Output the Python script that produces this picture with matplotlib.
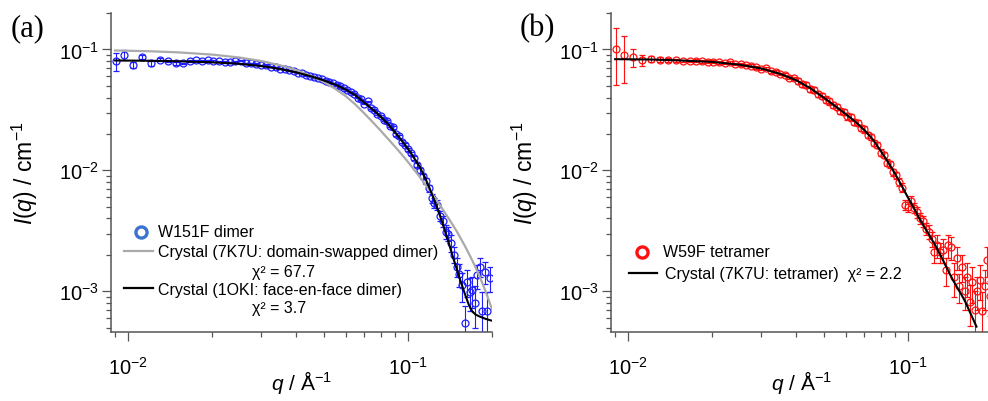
import matplotlib
matplotlib.use('Agg')
import matplotlib.pyplot as plt
from matplotlib.ticker import NullFormatter
import numpy

plt.rcParams['font.family'] = ['Liberation Sans', 'DejaVu Sans']
plt.rcParams['mathtext.fontset'] = 'custom'
plt.rcParams['mathtext.rm'] = 'Liberation Sans'
plt.rcParams['mathtext.it'] = 'Liberation Sans:italic'
plt.rcParams['mathtext.bf'] = 'Liberation Sans:bold'

# measured q grid (shared by both samples), 1/A
q_exp = [0.0091, 0.0097, 0.0104, 0.0112, 0.0121, 0.0130, 0.0139, 0.0148, 0.0157, 0.0166,
         0.0175, 0.0184, 0.0193, 0.0202, 0.0212, 0.0222, 0.0232, 0.0242, 0.0253, 0.0264,
         0.0275, 0.0287, 0.0299, 0.0311, 0.0324, 0.0337, 0.0350, 0.0363, 0.0377, 0.0391,
         0.0405, 0.0419, 0.0433, 0.0448, 0.0463, 0.0478, 0.0493, 0.0509, 0.0525, 0.0541,
         0.0557, 0.0574, 0.0591, 0.0608, 0.0626, 0.0644, 0.0662, 0.0681, 0.0700, 0.0719,
         0.0739, 0.0759, 0.0779, 0.0800, 0.0821, 0.0843, 0.0865, 0.0887, 0.0910, 0.0933,
         0.0957, 0.0981, 0.1005, 0.1030, 0.1055, 0.1081, 0.1107, 0.1134, 0.1161, 0.1189,
         0.1217, 0.1246, 0.1275, 0.1305, 0.1335, 0.1366, 0.1397, 0.1429, 0.1461, 0.1494,
         0.1527, 0.1561, 0.1595, 0.1630, 0.1665, 0.1701, 0.1737, 0.1774, 0.1811, 0.1849,
         0.1887, 0.1926, 0.1965]

# (a) W151F dimer
I_w151f = [0.0800, 0.0905, 0.0740, 0.0870, 0.0765, 0.0825, 0.0800, 0.0765, 0.0765, 0.0800,
           0.0812, 0.0805, 0.0810, 0.0800, 0.0795, 0.0788, 0.0783, 0.0800, 0.0803, 0.0770,
           0.0765, 0.0760, 0.0742, 0.0745, 0.0722, 0.0715, 0.0690, 0.0688, 0.0672, 0.0660,
           0.0642, 0.0640, 0.0612, 0.0605, 0.0590, 0.0580, 0.0566, 0.0553, 0.0540, 0.0527,
           0.0510, 0.0494, 0.0478, 0.0462, 0.0442, 0.0430, 0.0400, 0.0386, 0.0356, 0.0372,
           0.0326, 0.0318, 0.0294, 0.0283, 0.0263, 0.0254, 0.0231, 0.0226, 0.0199, 0.0191,
           0.0173, 0.0163, 0.0149, 0.0138, 0.0127, 0.0111, 0.0100, 0.0089, 0.0082, 0.0071,
           0.0059, 0.0054, 0.0052, 0.0042, 0.0038, 0.0031, 0.0030, 0.0025, 0.0020, 0.0016,
           0.00138, 0.00112, 0.00055, 0.00120, 0.00098, 0.00102, 0.00080, 0.00135, 0.00160, 0.00068,
           0.00145, 0.00068, 0.00128]
err_w151f = [0.0140, 0.0080, 0.0040, 0.0035, 0.0030, 0.0022, 0.0018, 0.0016, 0.0014, 0.0013,
             0.0012, 0.0011, 0.0010, 0.0010, 0.0009, 0.0009, 0.0008, 0.0008, 0.0008, 0.0007,
             0.0007, 0.0007, 0.0007, 0.0006, 0.0006, 0.0006, 0.0006, 0.0006, 0.0006, 0.0005,
             0.0005, 0.0005, 0.0005, 0.0005, 0.0005, 0.0005, 0.0005, 0.0005, 0.0005, 0.0005,
             0.0005, 0.0005, 0.0005, 0.0005, 0.0005, 0.0005, 0.0005, 0.0005, 0.0005, 0.0005,
             0.0005, 0.0005, 0.0005, 0.0005, 0.0005, 0.0005, 0.0005, 0.0005, 0.0005, 0.0005,
             0.0005, 0.0005, 0.0005, 0.0005, 0.0005, 0.0005, 0.0005, 0.0005, 0.0005, 0.0005,
             0.0005, 0.0005, 0.0005, 0.0004, 0.0004, 0.0004, 0.0004, 0.0004, 0.0003, 0.0003,
             0.0003, 0.0003, 0.0002, 0.0003, 0.0003, 0.0003, 0.0003, 0.0003, 0.0003, 0.0003,
             0.0003, 0.0003, 0.0003]

# (b) W59F tetramer
I_w59f = [0.1000, 0.0905, 0.0860, 0.0815, 0.0830, 0.0820, 0.0815, 0.0810, 0.0805, 0.0800,
          0.0805, 0.0795, 0.0790, 0.0790, 0.0780, 0.0770, 0.0780, 0.0760, 0.0752, 0.0740,
          0.0735, 0.0712, 0.0690, 0.0700, 0.0660, 0.0655, 0.0625, 0.0620, 0.0585, 0.0575,
          0.0550, 0.0520, 0.0510, 0.0470, 0.0460, 0.0428, 0.0415, 0.0385, 0.0372, 0.0348,
          0.0335, 0.0310, 0.0303, 0.0280, 0.0274, 0.0250, 0.0246, 0.0225, 0.0218, 0.0197,
          0.0190, 0.0168, 0.0162, 0.0140, 0.0134, 0.0116, 0.0112, 0.0096, 0.0091, 0.0080,
          0.0072, 0.0052, 0.0050, 0.0056, 0.0049, 0.0045, 0.0040, 0.0038, 0.0033, 0.0031,
          0.0027, 0.0021, 0.0024, 0.0021, 0.0022, 0.0015, 0.0024, 0.0023, 0.0013, 0.0019,
          0.0011, 0.0016, 0.0010, 0.0013, 0.00082, 0.0012, 0.00070, 0.0010, 0.00125, 0.00068,
          0.0011, 0.0018, 0.00092]
err_w59f = [0.0490, 0.0380, 0.0140, 0.0080, 0.0050, 0.0040, 0.0030, 0.0025, 0.0020, 0.0018,
            0.0022, 0.0021, 0.0020, 0.0020, 0.0019, 0.0019, 0.0018, 0.0018, 0.0018, 0.0017,
            0.0017, 0.0017, 0.0016, 0.0016, 0.0016, 0.0015, 0.0015, 0.0015, 0.0014, 0.0014,
            0.0033, 0.0031, 0.0030, 0.0028, 0.0027, 0.0026, 0.0025, 0.0023, 0.0022, 0.0021,
            0.0020, 0.0019, 0.0018, 0.0017, 0.0016, 0.0015, 0.0015, 0.0014, 0.0013, 0.0012,
            0.0011, 0.0010, 0.0010, 0.0009, 0.0008, 0.0008, 0.0007, 0.0007, 0.0006, 0.0006,
            0.0006, 0.0005, 0.0005, 0.0005, 0.0005, 0.0005, 0.0004, 0.0004, 0.0004, 0.0004,
            0.0004, 0.0004, 0.0005, 0.0004, 0.0005, 0.0004, 0.0005, 0.0005, 0.0004, 0.0004,
            0.0003, 0.0004, 0.0003, 0.0004, 0.0003, 0.0004, 0.0003, 0.0003, 0.0004, 0.0003,
            0.0004, 0.0005, 0.0003]

# model curves from crystal structures
q_model = [0.009, 0.012, 0.015, 0.020, 0.025, 0.030, 0.035, 0.040, 0.045, 0.050,
           0.055, 0.060, 0.065, 0.070, 0.075, 0.080, 0.085, 0.090, 0.095, 0.100,
           0.105, 0.110, 0.115, 0.120, 0.125, 0.130, 0.135, 0.140, 0.145, 0.150,
           0.155, 0.160, 0.165, 0.170, 0.175, 0.180, 0.190, 0.200]
I_1oki = [0.0810, 0.0805, 0.0798, 0.0782, 0.0760, 0.0728, 0.0688, 0.0645, 0.0600, 0.0555,
          0.0512, 0.0465, 0.0418, 0.0362, 0.0318, 0.0278, 0.0241, 0.0207, 0.0177, 0.0151,
          0.0128, 0.0108, 0.0088, 0.0070, 0.0055, 0.0043, 0.0033, 0.00253, 0.00192, 0.00150,
          0.00118, 0.00095, 0.00078, 0.00068, 0.00064, 0.00062, 0.00059, 0.00057]

q_7k7u_dimer = [0.009, 0.012, 0.015, 0.020, 0.025, 0.030, 0.035, 0.040, 0.045, 0.050,
                0.055, 0.060, 0.065, 0.070, 0.075, 0.080, 0.085, 0.090, 0.095, 0.100,
                0.110, 0.120, 0.130, 0.140, 0.150, 0.160, 0.170, 0.180, 0.190, 0.200]
I_7k7u_dimer = [0.0980, 0.0965, 0.0946, 0.0906, 0.0857, 0.0801, 0.0739, 0.0674, 0.0606, 0.0539,
                0.0473, 0.0411, 0.0350, 0.0295, 0.0250, 0.0213, 0.0182, 0.0157, 0.0136, 0.0118,
                0.0089, 0.0068, 0.0052, 0.0040, 0.0031, 0.00237, 0.00180, 0.00135, 0.00099, 0.00071]

q_7k7u_tetramer = [0.009, 0.012, 0.015, 0.020, 0.025, 0.030, 0.035, 0.040, 0.045, 0.050,
                   0.055, 0.060, 0.065, 0.070, 0.075, 0.080, 0.085, 0.090, 0.095, 0.100,
                   0.105, 0.110, 0.115, 0.120, 0.125, 0.130, 0.135, 0.140, 0.145, 0.150,
                   0.155, 0.160, 0.165, 0.170, 0.176]
I_7k7u_tetramer = [0.0830, 0.0825, 0.0812, 0.0788, 0.0748, 0.0695, 0.0628, 0.0555, 0.0475, 0.0400,
                   0.0340, 0.0292, 0.0252, 0.0215, 0.0180, 0.0145, 0.0117, 0.0094, 0.0075, 0.0060,
                   0.0049, 0.0040, 0.00335, 0.00285, 0.00243, 0.00205, 0.00172, 0.00145, 0.00124, 0.00108,
                   0.00095, 0.00083, 0.00071, 0.00061, 0.00051]

W, H = 988, 402
BLUE = '#1e1eff'
RED = '#ff1010'
AXCOL = '#555555'


def fx(x):
    return x / W


def fy(y):
    return 1 - y / H


def setup_axes(ax):
    ax.set_xscale('log')
    ax.set_yscale('log')
    ax.set_xlim(0.0087, 0.2)
    ax.set_ylim(4.6e-4, 0.2)
    for s in ['top', 'right']:
        ax.spines[s].set_visible(False)
    for s in ['left', 'bottom']:
        ax.spines[s].set_color(AXCOL)
        ax.spines[s].set_linewidth(1.1)
    ax.tick_params(which='major', length=6.5, width=0.9, color=AXCOL, labelsize=14.5)
    ax.tick_params(which='minor', length=3.8, width=0.9, color=AXCOL)
    ax.tick_params(axis='x', which='major', pad=11)
    ax.tick_params(axis='y', which='major', pad=2)
    ax.xaxis.set_minor_formatter(NullFormatter())
    ax.yaxis.set_minor_formatter(NullFormatter())
    ax.set_xlabel(r'$q$ / Å$^{-1}$', fontsize=15, labelpad=-7)
    ax.set_ylabel(r'$I$($q$) / cm$^{-1}$', fontsize=16.5, labelpad=14)


fig = plt.figure(figsize=(W / 100, H / 100), dpi=100)
ax_a = fig.add_axes([fx(111), fy(333), (492 - 111) / W, (333 - 14) / H])
ax_b = fig.add_axes([fx(611), fy(333), (492 - 111) / W, (333 - 14) / H])

# panel (a)
ax_a.errorbar(q_exp, I_w151f, yerr=err_w151f, fmt='o', ms=5, mfc='none', mec=BLUE, mew=0.9,
              ecolor=BLUE, elinewidth=0.8, capsize=2.5, capthick=0.8, zorder=2)
ax_a.plot(q_7k7u_dimer, I_7k7u_dimer, color='#aaaaaa', lw=1.6, zorder=3)
ax_a.plot(q_model, I_1oki, color='black', lw=1.5, zorder=4)
setup_axes(ax_a)

# panel (b)
ax_b.errorbar(q_exp, I_w59f, yerr=err_w59f, fmt='o', ms=5, mfc='none', mec=RED, mew=0.9,
              ecolor=RED, elinewidth=0.8, capsize=2.5, capthick=0.8, zorder=2)
ax_b.plot(q_7k7u_tetramer, I_7k7u_tetramer, color='black', lw=1.5, zorder=4)
setup_axes(ax_b)

# legends drawn by hand (figure pixel positions)
fs = 11.5
ax_a.plot([fx(141)], [fy(233)], 'o', ms=8, mfc='none', mec='#3b74d0', mew=2.4,
          transform=fig.transFigure, clip_on=False)
fig.text(fx(158), fy(233), 'W151F dimer', fontsize=fs, va='center')
ax_a.plot([fx(124), fx(153)], [fy(252), fy(252)], color='#aaaaaa', lw=1.6,
          transform=fig.transFigure, clip_on=False)
fig.text(fx(158), fy(253), 'Crystal (7K7U: domain-swapped dimer)', fontsize=fs, va='center')
fig.text(fx(284), fy(272), 'χ² = 67.7', fontsize=fs, va='center', ha='center')
ax_a.plot([fx(124), fx(153)], [fy(289), fy(289)], color='black', lw=1.6,
          transform=fig.transFigure, clip_on=False)
fig.text(fx(158), fy(290), 'Crystal (1OKI: face-en-face dimer)', fontsize=fs, va='center')
fig.text(fx(279), fy(309), 'χ² = 3.7', fontsize=fs, va='center', ha='center')

ax_b.plot([fx(642)], [fy(253)], 'o', ms=8, mfc='none', mec=RED, mew=2.4,
          transform=fig.transFigure, clip_on=False)
fig.text(fx(663), fy(253), 'W59F tetramer', fontsize=fs, va='center')
ax_b.plot([fx(629), fx(657)], [fy(274), fy(274)], color='black', lw=1.6,
          transform=fig.transFigure, clip_on=False)
fig.text(fx(665), fy(275), 'Crystal (7K7U: tetramer)  χ² = 2.2', fontsize=fs, va='center')

# panel labels
fig.text(fx(11), fy(29), '(a)', family='Liberation Serif', fontsize=22, va='center')
fig.text(fx(520), fy(29), '(b)', family='Liberation Serif', fontsize=22, va='center')

fig.savefig('out.png', dpi=100)
plt.close(fig)
